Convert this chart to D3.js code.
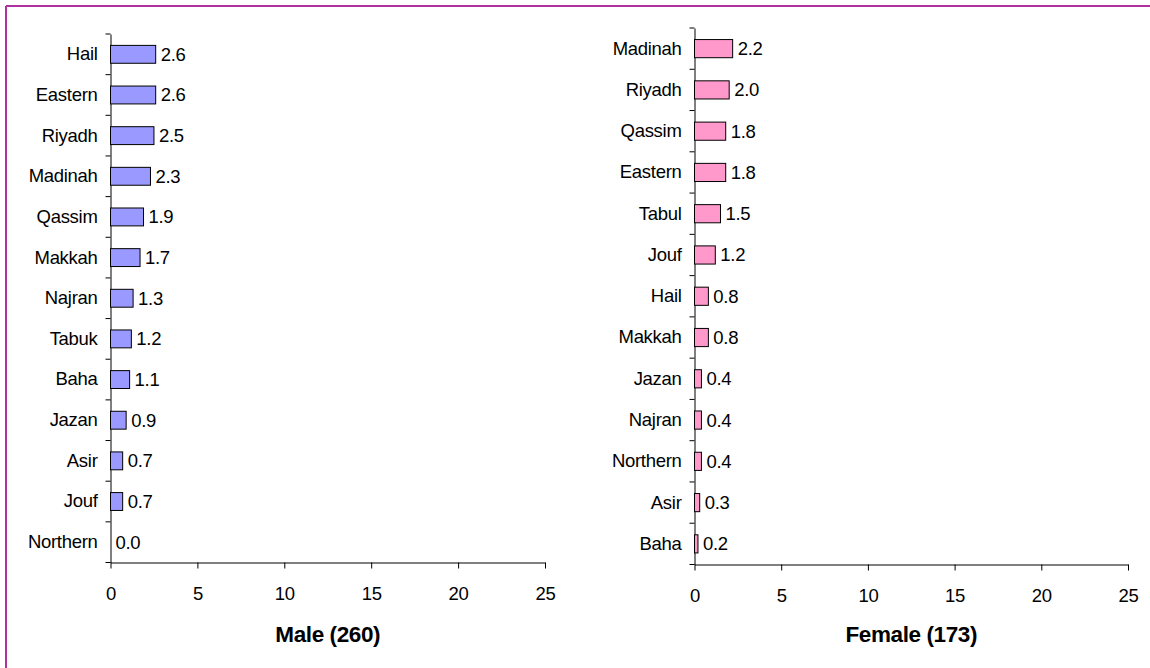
<!DOCTYPE html>
<html>
<head>
<meta charset="utf-8">
<script src="https://cdn.jsdelivr.net/npm/d3@7"></script>
<style>
  body { margin: 0; background: #fff; }
  svg { font-family: "Liberation Sans", Arial, sans-serif; }
</style>
</head>
<body>
<div id="chart"></div>
<script>
/* Two horizontal bar charts, male vs female by region */

const maleRegions = ["Hail", "Eastern", "Riyadh", "Madinah", "Qassim", "Makkah", "Najran",
    "Tabuk", "Baha", "Jazan", "Asir", "Jouf", "Northern"];
const maleValues = [2.6, 2.6, 2.5, 2.3, 1.9, 1.7, 1.3, 1.2, 1.1, 0.9, 0.7, 0.7, 0.0];

const femaleRegions = ["Madinah", "Riyadh", "Qassim", "Eastern", "Tabul", "Jouf", "Hail",
    "Makkah", "Jazan", "Najran", "Northern", "Asir", "Baha"];
const femaleValues = [2.2, 2.0, 1.8, 1.8, 1.5, 1.2, 0.8, 0.8, 0.4, 0.4, 0.4, 0.3, 0.2];

const xTicks = [0, 5, 10, 15, 20, 25];

const width = 1150, height = 668,
    fontSize = 18.5;

let svg = d3.select("#chart")
    .append("svg")
    .attr("width", width)
    .attr("height", height);

// purple frame (top and left edges)
svg.append("line")
    .attr("x1", 6).attr("x2", width).attr("y1", 6).attr("y2", 6)
    .attr("stroke", "#b0329f").attr("stroke-width", 2);
svg.append("line")
    .attr("x1", 6).attr("x2", 6).attr("y1", 6).attr("y2", height)
    .attr("stroke", "#b0329f").attr("stroke-width", 2);

function panel(regions, values, title, fill, box) {
    const data = regions.map((r, i) => ({region: r, value: values[i]}));

    let x = d3.scaleLinear()
        .domain([0, 25])
        .range([box.left, box.right]);

    let y = d3.scaleBand()
        .domain(regions)
        .range([box.top, box.bottom])
        .paddingInner(0.56)
        .paddingOuter(0.28);

    let g = svg.append("g");

    // x axis
    g.append("g")
        .attr("transform", `translate(0,${box.bottom})`)
        .call(d3.axisBottom(x).tickValues(xTicks).tickSize(6).tickSizeOuter(0).tickPadding(18))
        .call(a => a.select(".domain").attr("stroke", "#000"))
        .call(a => a.selectAll("text")
            .attr("font-size", fontSize)
            .attr("letter-spacing", -0.3)
            .attr("font-family", "Liberation Sans, Arial, sans-serif")
            .attr("fill", "#000"));

    // y axis with labels, separator ticks at band edges
    g.append("g")
        .attr("transform", `translate(${box.left},0)`)
        .call(d3.axisLeft(y).tickSize(0).tickPadding(13))
        .call(a => a.select(".domain").attr("stroke", "#000"))
        .call(a => a.selectAll("text")
            .attr("font-size", fontSize)
            .attr("letter-spacing", -0.3)
            .attr("font-family", "Liberation Sans, Arial, sans-serif")
            .attr("fill", "#000"));

    const edges = d3.range(regions.length + 1).map(i => box.top + i * y.step());
    g.selectAll(".sep")
        .data(edges)
        .join("line")
        .attr("class", "sep")
        .attr("x1", box.left - 5).attr("x2", box.left)
        .attr("y1", d => d).attr("y2", d => d)
        .attr("stroke", "#000");

    let bar = g.selectAll(".bar")
        .data(data)
        .join("g")
        .attr("class", "bar");

    bar.filter(d => d.value > 0).append("rect")
        .attr("x", x(0))
        .attr("y", d => y(d.region))
        .attr("width", d => x(d.value) - x(0))
        .attr("height", y.bandwidth())
        .attr("fill", fill)
        .attr("stroke", "#000")
        .attr("stroke-width", 1);

    bar.append("text")
        .attr("x", d => x(d.value) + 5)
        .attr("y", d => y(d.region) + y.bandwidth() / 2)
        .attr("dy", "0.35em")
        .attr("font-size", fontSize)
        .attr("letter-spacing", -0.3)
        .text(d => d.value.toFixed(1));

    g.append("text")
        .attr("x", (box.left + box.right) / 2)
        .attr("y", 642)
        .attr("text-anchor", "middle")
        .attr("font-size", 22.5)
        .attr("font-weight", "bold")
        .attr("letter-spacing", -0.4)
        .text(title);
}

panel(maleRegions, maleValues, "Male (260)", "#9999ff",
    {left: 110.5, right: 545, top: 34, bottom: 562.5});
panel(femaleRegions, femaleValues, "Female (173)", "#ff99cc",
    {left: 694.5, right: 1128, top: 28, bottom: 564.5});
</script>
</body>
</html>
